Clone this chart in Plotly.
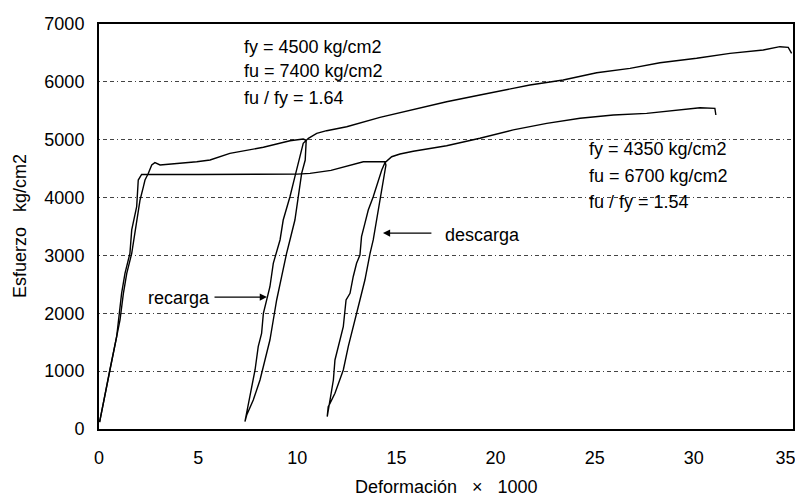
import plotly.graph_objects as go

# Curve with fy = 4500 kg/cm2 (upper curve)
strain_a = [0.03, 0.08, 0.55, 0.89, 1.06, 1.23, 1.40, 1.65, 1.82, 2.07, 2.24, 2.32, 2.49, 2.66, 2.82, 3.08,
            4.93, 5.60, 6.60, 8.29, 9.63, 10.30, 10.45,
            10.40, 10.22, 10.05, 9.88, 9.63, 9.46, 9.21, 8.96, 8.79, 8.62, 8.37, 8.12, 7.78, 7.45, 7.36,
            7.53, 7.70, 7.87, 8.03, 8.20, 8.29, 8.46, 8.62, 8.79, 9.13, 9.29, 9.63, 9.88, 10.14, 10.30,
            10.56, 10.98, 11.48, 12.49, 14.17, 15.85, 17.53, 19.21, 20.89, 21.73, 23.41, 25.10, 26.78,
            28.29, 30.14, 31.82, 33.50, 34.34, 34.76, 34.93]
stress_a = [120, 213, 1020, 1595, 1884, 2345, 2690, 3036, 3440, 3958, 4188, 4303, 4419, 4563, 4603, 4563,
            4620, 4649, 4765, 4869, 4983, 5012, 4990,
            4649, 4419, 4015, 3612, 3267, 3036, 2632, 2230, 1884, 1538, 1193, 847, 501, 242, 127,
            444, 731, 1020, 1423, 1654, 2000, 2230, 2459, 2864, 3267, 3612, 4015, 4361, 4706, 4938,
            5024, 5110, 5156, 5225, 5385, 5526, 5657, 5773, 5888, 5945, 6032, 6158, 6234,
            6331, 6407, 6493, 6550, 6608, 6596, 6493]

# Curve with fy = 4350 kg/cm2 (lower curve)
strain_b = [0.03, 0.08, 0.55, 0.89, 1.14, 1.31, 1.56, 1.65, 1.90, 1.98, 2.15, 5.00, 8.00, 10.00, 10.64,
            11.70, 13.33, 14.42, 14.47,
            14.37, 14.17, 14.00, 13.83, 13.67, 13.41, 13.16, 12.99, 12.82, 12.57, 12.32, 12.15, 11.90,
            11.65, 11.56, 11.51,
            11.65, 11.82, 11.90, 12.15, 12.32, 12.46, 12.66, 12.82, 12.99, 13.16, 13.24, 13.41, 13.58,
            13.83, 14.08, 14.26, 14.42,
            14.76, 15.18, 15.85, 17.53, 19.21, 20.89, 22.58, 24.26, 25.94, 27.62, 29.30, 30.31, 31.06, 31.11]
stress_b = [120, 213, 1020, 1595, 2345, 2690, 3036, 3440, 3842, 4303, 4400, 4400, 4400, 4405, 4419,
            4470, 4620, 4620, 4563,
            4361, 4015, 3612, 3267, 3036, 2575, 2230, 2000, 1768, 1423, 1020, 847, 617,
            444, 386, 213,
            501, 847, 1193, 1538, 1768, 2230, 2345, 2632, 2864, 3007, 3324, 3555, 3785,
            4015, 4303, 4476, 4603,
            4706, 4753, 4800, 4895, 5025, 5170, 5283, 5370, 5427, 5456, 5513, 5553, 5542, 5427]

x_ticks = [0, 5, 10, 15, 20, 25, 30, 35]
y_ticks = [0, 1000, 2000, 3000, 4000, 5000, 6000, 7000]

text_a = ["fy = 4500 kg/cm2", "fu = 7400 kg/cm2", "fu / fy = 1.64"]
text_b = ["fy = 4350 kg/cm2", "fu = 6700 kg/cm2", "fu / fy = 1.54"]

FONT = "Liberation Sans, Arial, sans-serif"
FS = 18
NB = "\u00a0"

fig = go.Figure()
for xs, ys in [(strain_a, stress_a), (strain_b, stress_b)]:
    fig.add_trace(go.Scatter(x=xs, y=ys, mode="lines",
                             line=dict(color="black", width=1.4),
                             showlegend=False, hoverinfo="skip"))

annotations = []
for i, t in enumerate(text_a):
    annotations.append(dict(x=7.21, y=[6602, 6187, 5720][i], xref="x", yref="y", text=t,
                            showarrow=False, xanchor="left", yanchor="middle",
                            font=dict(family=FONT, size=FS, color="black")))
for i, t in enumerate(text_b):
    annotations.append(dict(x=24.61, y=[4839, 4373, 3923][i], xref="x", yref="y", text=t,
                            showarrow=False, xanchor="left", yanchor="middle",
                            font=dict(family=FONT, size=FS, color="black")))

annotations.append(dict(x=17.35, y=3353, xref="x", yref="y", text="descarga",
                        showarrow=False, xanchor="left", yanchor="middle",
                        font=dict(family=FONT, size=FS, color="black")))
annotations.append(dict(x=14.32, y=3387, ax=16.84, ay=3387, xref="x", yref="y", axref="x", ayref="y",
                        text="", showarrow=True, arrowhead=2, arrowsize=1.2, arrowwidth=1.2,
                        arrowcolor="black"))
annotations.append(dict(x=5.70, y=2264, xref="x", yref="y", text="recarga",
                        showarrow=False, xanchor="right", yanchor="middle",
                        font=dict(family=FONT, size=FS, color="black")))
annotations.append(dict(x=8.47, y=2281, ax=5.75, ay=2281, xref="x", yref="y", axref="x", ayref="y",
                        text="", showarrow=True, arrowhead=2, arrowsize=1.2, arrowwidth=1.2,
                        arrowcolor="black"))

# axis titles
annotations.append(dict(x=0.5, y=-0.143, xref="paper", yref="paper",
                        text="Deformación" + NB * 3 + "×" + NB * 3 + "1000", showarrow=False,
                        xanchor="center", yanchor="middle",
                        font=dict(family=FONT, size=FS, color="black")))
annotations.append(dict(x=-0.1138, y=0.501, xref="paper", yref="paper",
                        text="Esfuerzo" + NB * 3 + "kg/cm2", showarrow=False, textangle=-90,
                        xanchor="center", yanchor="middle",
                        font=dict(family=FONT, size=FS, color="black")))

# x tick labels; the last one is nudged left so it stays inside the page edge
x_ticktext = [str(v) for v in x_ticks]
x_ticktext[-1] = x_ticktext[-1] + NB * 3

# the page body has an 8px margin, so the figure is drawn offset by (8, 8)
fig.update_layout(
    width=795, height=488,
    margin=dict(l=91, r=10, t=16, b=67, autoexpand=False),
    paper_bgcolor="white", plot_bgcolor="white",
    annotations=annotations,
    font=dict(family=FONT, size=FS, color="black"),
)
fig.update_xaxes(range=[0, 35], tickvals=x_ticks, ticktext=x_ticktext,
                 showgrid=False, zeroline=False, showline=True, linecolor="black", linewidth=2,
                 mirror=True, ticks="", ticklabelstandoff=11, automargin=False,
                 ticklabeloverflow="allow",
                 tickfont=dict(family=FONT, size=FS, color="black"))
fig.update_yaxes(range=[0, 7000], tickvals=y_ticks, ticktext=[str(v) for v in y_ticks],
                 showgrid=True, gridcolor="#444444", gridwidth=1,
                 griddash="1px,3px,4px,3px,4px,3px",
                 zeroline=False, showline=True, linecolor="black", linewidth=2,
                 mirror=True, ticks="", ticklabelstandoff=9, automargin=False,
                 ticklabeloverflow="allow",
                 tickfont=dict(family=FONT, size=FS, color="black"))

fig.write_html("out.html")
